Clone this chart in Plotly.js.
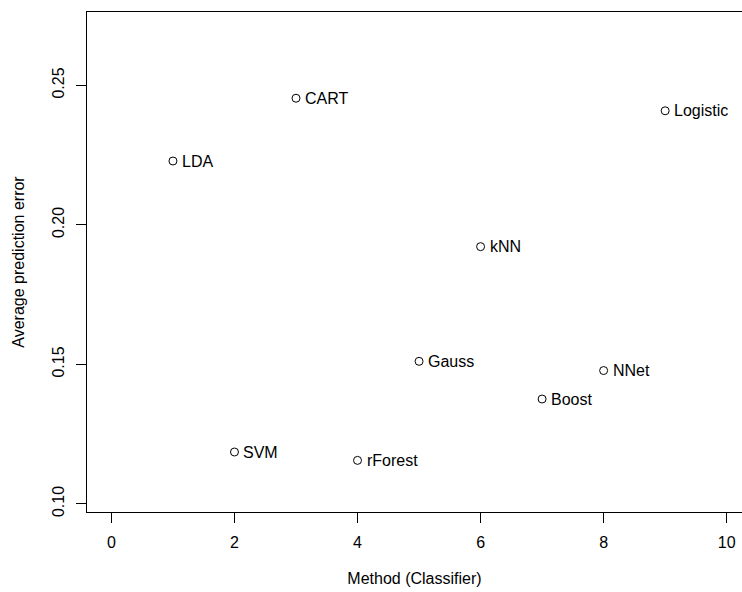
<!DOCTYPE html>
<html>
<head>
<meta charset="utf-8">
<script src="https://cdn.plot.ly/plotly-3.0.1.min.js"></script>
<style>html,body{margin:0;padding:0;background:#fff;}#chart{width:742px;height:592px;}</style>
</head>
<body>
<div id="chart"></div>
<script>
const methods = ["LDA", "SVM", "CART", "rForest", "Gauss", "kNN", "Boost", "NNet", "Logistic"];
const methodIndex = [1, 2, 3, 4, 5, 6, 7, 8, 9];
const avgError = [0.2229, 0.1186, 0.2454, 0.1156, 0.1511, 0.1922, 0.1376, 0.1478, 0.2409];
const xTicks = [0, 2, 4, 6, 8, 10];
const yTicks = [0.10, 0.15, 0.20, 0.25];
const yTickLabels = ["0.10", "0.15", "0.20", "0.25"];

const font = {family: "Liberation Sans, Arial, Helvetica, sans-serif", size: 16, color: "#000"};

const trace = {
  x: methodIndex,
  y: avgError,
  mode: "markers",
  type: "scatter",
  marker: {symbol: "circle-open", size: 8, color: "#000", line: {width: 1, color: "#000"}},
  hoverinfo: "skip",
  cliponaxis: false
};

const labels = methods.map((m, i) => ({
  x: methodIndex[i], y: avgError[i], xref: "x", yref: "y",
  text: m, showarrow: false, xanchor: "left", yanchor: "middle",
  xshift: 7, font: font
}));

const layout = {
  width: 742, height: 592,
  margin: {l: 87, r: 0, t: 12, b: 80},
  paper_bgcolor: "#fff", plot_bgcolor: "#fff",
  showlegend: false,
  font: font,
  annotations: labels,
  xaxis: {
    range: [-0.397, 10.249],
    tickvals: xTicks,
    ticktext: xTicks.map(String),
    ticks: "outside", ticklen: 10, tickwidth: 1, tickcolor: "#000",
    showline: true, linecolor: "#000", linewidth: 1, mirror: true,
    showgrid: false, zeroline: false,
    tickfont: font,
    ticklabelstandoff: 6,
    title: {text: "Method (Classifier)", font: font, standoff: 22}
  },
  yaxis: {
    range: [0.0971, 0.2763],
    tickvals: yTicks,
    ticktext: yTickLabels,
    tickangle: -90,
    ticks: "outside", ticklen: 10, tickwidth: 1, tickcolor: "#000",
    showline: true, linecolor: "#000", linewidth: 1, mirror: false,
    showgrid: false, zeroline: false,
    tickfont: font,
    ticklabelstandoff: 6,
    title: {text: "Average prediction error", font: font, standoff: 20}
  }
};

Plotly.newPlot("chart", [trace], layout, {displayModeBar: false, staticPlot: true});
</script>
</body>
</html>
